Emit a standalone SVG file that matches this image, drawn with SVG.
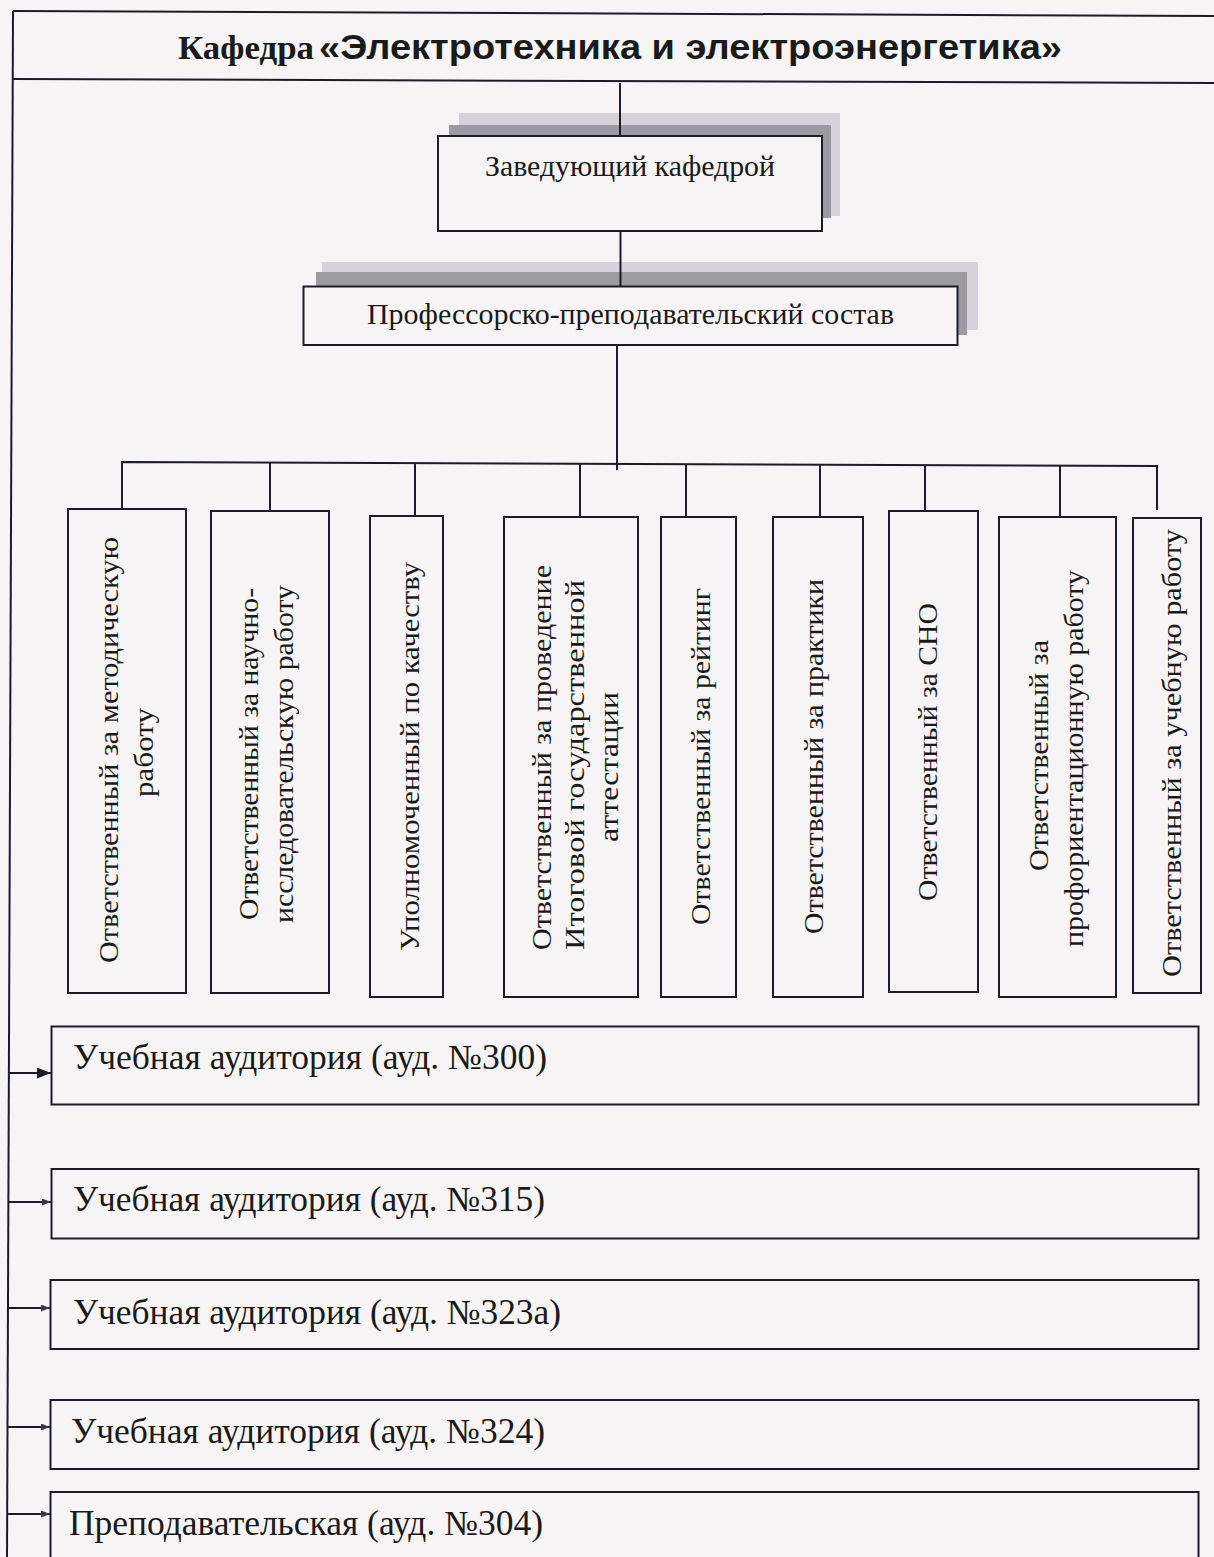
<svg xmlns="http://www.w3.org/2000/svg" width="1214" height="1557" viewBox="0 0 1214 1557">
<defs>
<style>
.ln{stroke:#1c1c28;stroke-width:2;fill:none}
.box{stroke:#1c1c28;stroke-width:2;fill:#f6f4f4}
.t{font-family:"Liberation Serif","Times New Roman",serif;fill:#1a1a1a}
.col{font-size:27px}
.big{font-size:35px}
.sh1{fill:#d6d2da}
.sh2{fill:#9c9aa2}
</style>
<marker id="ahBig" markerWidth="14" markerHeight="11" refX="14" refY="5.5" orient="auto" markerUnits="userSpaceOnUse">
<path d="M0,0 L14,5.5 L0,11 z" fill="#1c1c28"/>
</marker>
<marker id="ahSm" markerWidth="9" markerHeight="7" refX="9" refY="3.5" orient="auto" markerUnits="userSpaceOnUse">
<path d="M0,0 L9,3.5 L0,7 z" fill="#3a3a44"/>
</marker>
</defs>
<rect x="0" y="0" width="1214" height="1557" fill="#f6f4f4"/>

<g id="header">
<line class="ln" x1="13" y1="11" x2="1214" y2="16"/>
<line class="ln" x1="12" y1="79" x2="1214" y2="83"/>
<text class="t" x="178" y="59"><tspan font-family="Liberation Serif, serif" font-weight="bold" font-size="34" textLength="136" lengthAdjust="spacingAndGlyphs">Кафедра</tspan><tspan x="319" font-family="Liberation Sans, Arial, sans-serif" font-weight="bold" font-size="35" textLength="743" lengthAdjust="spacingAndGlyphs">«Электротехника и электроэнергетика»</tspan></text>
</g>

<g id="head">
<rect class="sh1" x="459" y="113" width="381" height="103"/>
<rect class="sh2" x="449" y="125" width="382" height="93"/>
<rect class="box" x="438" y="136" width="384" height="95"/>
<text class="t" x="485" y="176" font-size="30" textLength="290" lengthAdjust="spacingAndGlyphs">Заведующий кафедрой</text>
</g>

<g id="staff">
<rect class="sh1" x="322" y="262" width="656" height="68"/>
<rect class="sh2" x="316" y="272" width="651" height="63"/>
<rect class="box" x="303.5" y="286.5" width="654" height="58.5"/>
<text class="t" x="367" y="324" font-size="30" textLength="527" lengthAdjust="spacingAndGlyphs">Профессорско-преподавательский состав</text>
</g>

<g id="connectors">
<line class="ln" x1="620" y1="83" x2="620" y2="136"/>
<line class="ln" x1="620.5" y1="232" x2="620.5" y2="286"/>
<line class="ln" x1="617" y1="345" x2="617" y2="470"/>
<path class="ln" d="M122,470 L122,462 L1157,466 L1157,470"/>
<line class="ln" x1="122" y1="462" x2="122" y2="509"/>
<line class="ln" x1="270" y1="462.6" x2="270" y2="511"/>
<line class="ln" x1="415" y1="463.2" x2="415" y2="516"/>
<line class="ln" x1="580" y1="463.8" x2="580" y2="517"/>
<line class="ln" x1="686" y1="464.2" x2="686" y2="517"/>
<line class="ln" x1="820" y1="464.7" x2="820" y2="517"/>
<line class="ln" x1="925" y1="465.1" x2="925" y2="511"/>
<line class="ln" x1="1060" y1="465.6" x2="1060" y2="517"/>
<line class="ln" x1="1157" y1="466" x2="1157" y2="510"/>
<line class="ln" x1="13" y1="11" x2="7" y2="1557"/>
<line class="ln" x1="9" y1="1073" x2="51" y2="1073" marker-end="url(#ahBig)"/>
<line class="ln" x1="8.5" y1="1202" x2="51" y2="1202" marker-end="url(#ahSm)"/>
<line class="ln" x1="8" y1="1308" x2="50" y2="1308" marker-end="url(#ahSm)"/>
<line class="ln" x1="7.5" y1="1427" x2="50" y2="1427" marker-end="url(#ahSm)"/>
<line class="ln" x1="7.2" y1="1514" x2="50" y2="1514" marker-end="url(#ahSm)"/>
</g>

<g id="r1">
<rect class="box" x="68" y="509" width="118" height="484"/>
<text class="t col" transform="rotate(-90)" x="-963" y="118" textLength="426" lengthAdjust="spacingAndGlyphs">Ответственный за методическую</text>
<text class="t col" transform="rotate(-90)" x="-797" y="153" textLength="89" lengthAdjust="spacingAndGlyphs">работу</text>
</g>
<g id="r2">
<rect class="box" x="211" y="511" width="118" height="482"/>
<text class="t col" transform="rotate(-90)" x="-920" y="258" textLength="332" lengthAdjust="spacingAndGlyphs">Ответственный за научно-</text>
<text class="t col" transform="rotate(-90)" x="-923" y="293" textLength="338" lengthAdjust="spacingAndGlyphs">исследовательскую работу</text>
</g>
<g id="r3">
<rect class="box" x="370" y="516" width="73" height="481"/>
<text class="t col" transform="rotate(-90)" x="-951" y="419" textLength="389" lengthAdjust="spacingAndGlyphs">Уполномоченный по качеству</text>
</g>
<g id="r4">
<rect class="box" x="504" y="517" width="134" height="480"/>
<text class="t col" transform="rotate(-90)" x="-950" y="551" textLength="385" lengthAdjust="spacingAndGlyphs">Ответственный за проведение</text>
<text class="t col" transform="rotate(-90)" x="-950" y="584" textLength="370" lengthAdjust="spacingAndGlyphs">Итоговой государственной</text>
<text class="t col" transform="rotate(-90)" x="-842" y="618" font-size="24" textLength="150" lengthAdjust="spacingAndGlyphs">аттестации</text>
</g>
<g id="r5">
<rect class="box" x="661" y="517" width="75" height="480"/>
<text class="t col" transform="rotate(-90)" x="-925" y="710" textLength="337" lengthAdjust="spacingAndGlyphs">Ответственный за рейтинг</text>
</g>
<g id="r6">
<rect class="box" x="773" y="517" width="90" height="480"/>
<text class="t col" transform="rotate(-90)" x="-934" y="823" textLength="355" lengthAdjust="spacingAndGlyphs">Ответственный за практики</text>
</g>
<g id="r7">
<rect class="box" x="889" y="511" width="89" height="481"/>
<text class="t col" transform="rotate(-90)" x="-901" y="937" textLength="298" lengthAdjust="spacingAndGlyphs">Ответственный за СНО</text>
</g>
<g id="r8">
<rect class="box" x="999" y="517" width="117" height="480"/>
<text class="t col" transform="rotate(-90)" x="-871" y="1048" textLength="231" lengthAdjust="spacingAndGlyphs">Ответственный за</text>
<text class="t col" transform="rotate(-90)" x="-947" y="1083" textLength="377" lengthAdjust="spacingAndGlyphs">профориентационную работу</text>
</g>
<g id="r9">
<rect class="box" x="1133" y="518" width="68" height="475"/>
<text class="t col" transform="rotate(-90)" x="-977" y="1181" textLength="448" lengthAdjust="spacingAndGlyphs">Ответственный за учебную работу</text>
</g>

<g id="a300">
<rect class="box" x="51.5" y="1026.5" width="1147" height="78"/>
<text class="t big" x="73" y="1069" textLength="474" lengthAdjust="spacingAndGlyphs">Учебная аудитория (ауд. №300)</text>
</g>
<g id="a315">
<rect class="box" x="51.5" y="1169" width="1147" height="69.5"/>
<text class="t big" x="73" y="1211" textLength="472" lengthAdjust="spacingAndGlyphs">Учебная аудитория (ауд. №315)</text>
</g>
<g id="a323a">
<rect class="box" x="50.5" y="1280" width="1148" height="69"/>
<text class="t big" x="73" y="1324" textLength="488" lengthAdjust="spacingAndGlyphs">Учебная аудитория (ауд. №323а)</text>
</g>
<g id="a324">
<rect class="box" x="50.5" y="1400" width="1148" height="69"/>
<text class="t big" x="71" y="1443" textLength="474" lengthAdjust="spacingAndGlyphs">Учебная аудитория (ауд. №324)</text>
</g>
<g id="a304">
<path class="box" d="M50.5,1560 L50.5,1492 L1198.5,1492 L1198.5,1560"/>
<text class="t big" x="69" y="1535" textLength="474" lengthAdjust="spacingAndGlyphs">Преподавательская (ауд. №304)</text>
</g>
</svg>
